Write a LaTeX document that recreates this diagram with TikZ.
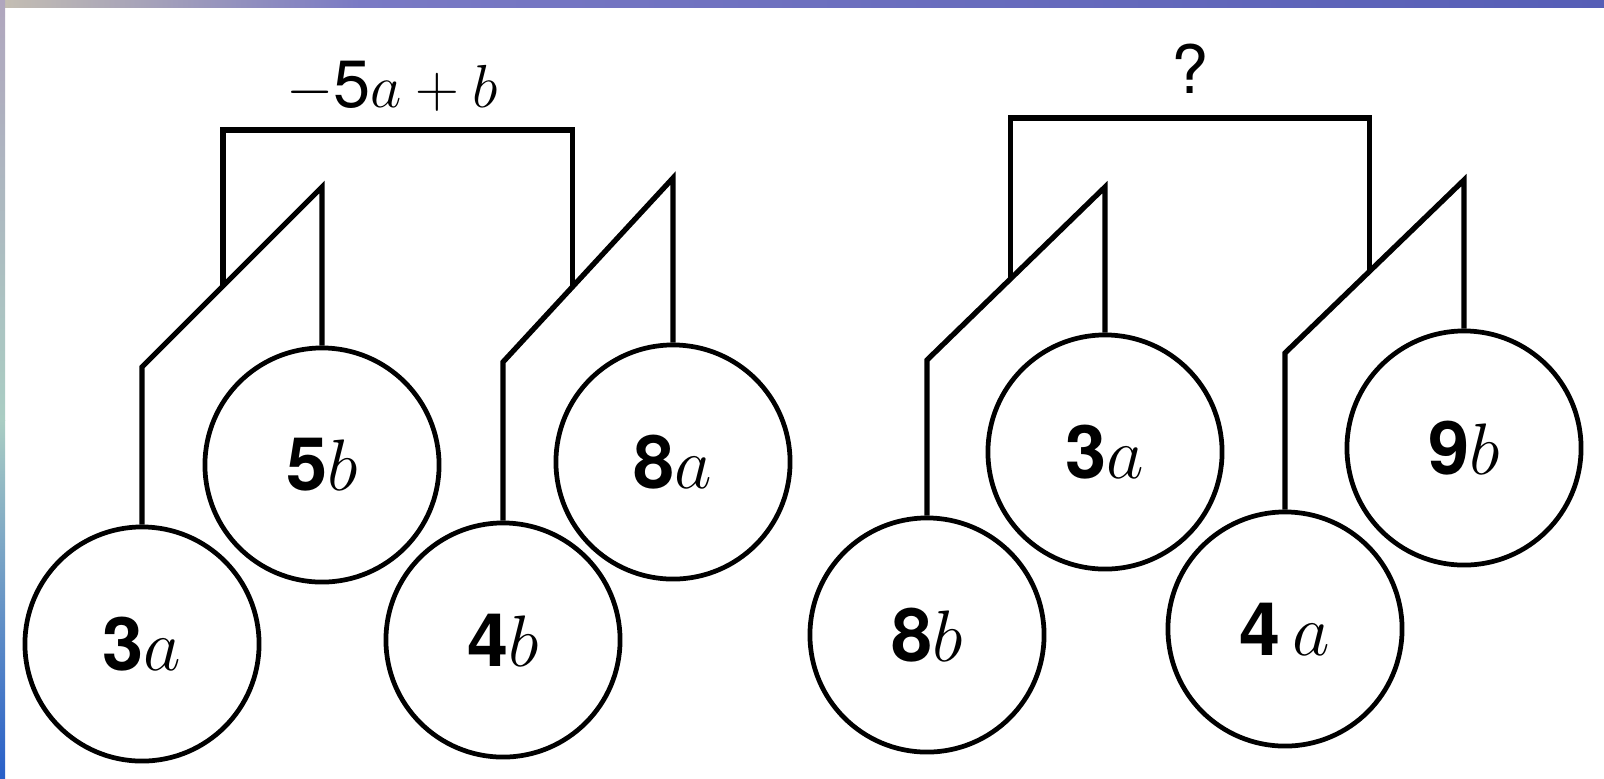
\documentclass[tikz,border=0pt]{standalone}
\usepackage{fontspec}
\setmainfont{TeX Gyre Heros}
\usepackage{xcolor}
\usepackage{tikz}
\usetikzlibrary{calc}

\definecolor{topl}{RGB}{196,190,178}
\definecolor{topm}{RGB}{122,122,196}
\definecolor{topr}{RGB}{86,94,182}
\definecolor{sidea}{RGB}{176,166,190}
\definecolor{sideb}{RGB}{170,205,195}
\definecolor{sidec}{RGB}{40,95,200}

\begin{document}
\begin{tikzpicture}[
    x=0.01cm, y=-0.01cm,
    ball/.style={circle, draw, line width=1.35pt, fill=white, minimum size=2.34cm, inner sep=0pt, font=\fontsize{21}{25}\selectfont},
    wire/.style={line width=1.5pt, line join=miter},
    toplabel/.style={font=\fontsize{19}{23}\selectfont, anchor=base}
]
    \useasboundingbox (0,0) rectangle (1604,778);
    \fill[white] (0,0) rectangle (1604,778);
    \shade[left color=topl, right color=topm] (0,0) rectangle (360,7);
    \shade[left color=topm, right color=topr] (360,0) rectangle (1604,7);
    \shade[top color=sidea, bottom color=sideb] (0,0) rectangle (5,420);
    \shade[top color=sideb, bottom color=sidec] (0,420) rectangle (5,778);

    \node[ball] (c3a) at (142,644) {\textbf{3}$a$};
    \node[ball] (c5b) at (322,465) {\textbf{5}$b$};
    \node[ball] (c4b) at (503,640) {\textbf{4}$b$};
    \node[ball] (c8a) at (673,462) {\textbf{8}$a$};

    \node[ball] (d8b) at (927,635) {\textbf{8}$b$};
    \node[ball] (d3a) at (1105,452) {\textbf{3}$a$};
    \node[ball] (d4a) at (1285,629) {\textbf{4}\,$a$};
    \node[ball] (d9b) at (1464,448) {\textbf{9}$b$};

    \draw[wire] (c3a.north) -- (c3a.north |- 0,367) coordinate (k1) -- (c5b.north |- 0,187) coordinate (p1) -- (c5b.north);
    \draw[wire] (c4b.north) -- (c4b.north |- 0,362) coordinate (k2) -- (c8a.north |- 0,178) coordinate (p2) -- (c8a.north);
    \draw[wire] (d8b.north) -- (d8b.north |- 0,360) coordinate (k3) -- (d3a.north |- 0,187) coordinate (p3) -- (d3a.north);
    \draw[wire] (d4a.north) -- (d4a.north |- 0,353) coordinate (k4) -- (d9b.north |- 0,180) coordinate (p4) -- (d9b.north);

    \coordinate (f1) at ($(k1)!0.45!(p1)$);
    \coordinate (f2) at ($(k2)!0.41!(p2)$);
    \coordinate (f3) at ($(k3)!0.47!(p3)$);
    \coordinate (f4) at ($(k4)!0.47!(p4)$);
    \draw[wire] (f1) -- (f1 |- 0,130) -- (f2 |- 0,130) -- (f2);
    \draw[wire] (f3) -- (f3 |- 0,118) -- (f4 |- 0,118) -- (f4);

    \node[toplabel] (sum) at (392,107) {\(-\)5\(a+b\)};
    \node[toplabel] (ask) at (1190,93) {?};
\end{tikzpicture}
\end{document}
